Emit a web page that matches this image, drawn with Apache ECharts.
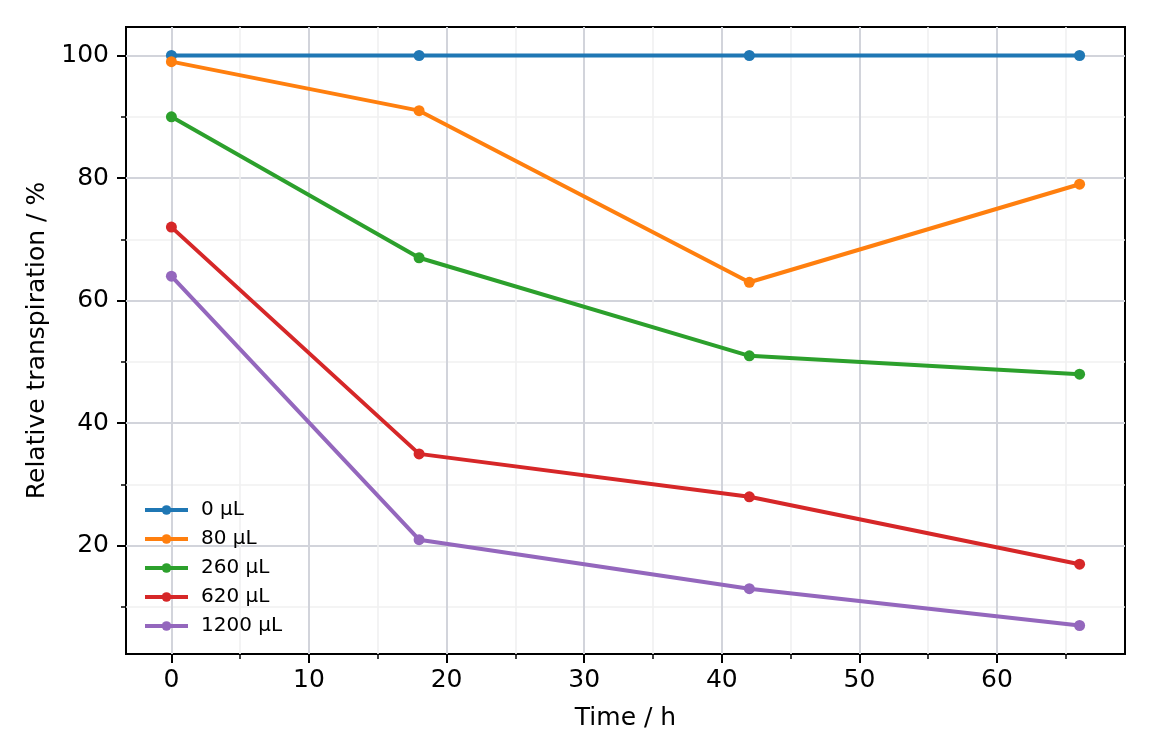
<!DOCTYPE html>
<html>
<head>
<meta charset="utf-8">
<script src="https://cdn.jsdelivr.net/npm/echarts@6/dist/echarts.min.js"></script>
<style>
html, body { margin: 0; padding: 0; background: #fff; }
#chart { width: 1152px; height: 756px; }
</style>
</head>
<body>
<div id="chart"></div>
<script>
// time points (h) and relative transpiration (%) per dose
var times = [0, 18, 42, 66];
var dose0 = [100, 100, 100, 100];
var dose80 = [99, 91, 63, 79];
var dose260 = [90, 67, 51, 48];
var dose620 = [72, 35, 28, 17];
var dose1200 = [64, 21, 13, 7];
var seriesNames = ['0 μL', '80 μL', '260 μL', '620 μL', '1200 μL'];
var xMajor = [0, 10, 20, 30, 40, 50, 60];
var xMinor = [5, 15, 25, 35, 45, 55, 65];
var yMajor = [20, 40, 60, 80, 100];
var yMinor = [10, 30, 50, 70, 90];

var colors = ['#1f77b4', '#ff7f0e', '#2ca02c', '#d62728', '#9467bd'];
var font = 'DejaVu Sans';

function pairs(ys) {
    return times.map(function (t, i) { return [t, ys[i]]; });
}

var allData = [dose0, dose80, dose260, dose620, dose1200];

var myChart = echarts.init(document.getElementById('chart'));
var option = {
    animation: false,
    color: colors,
    textStyle: { fontFamily: font },
    grid: {
        left: 126, right: 27, top: 27, bottom: 102,
        show: true,
        borderColor: '#000',
        borderWidth: 2,
        backgroundColor: 'transparent'
    },
    legend: {
        orient: 'vertical',
        left: 138,
        top: 495,
        itemWidth: 43,
        itemHeight: 12,
        itemGap: 9,
        lineStyle: { width: 4 },
        textStyle: { fontSize: 20, color: '#000', fontFamily: font, padding: [0, 0, 0, 8] },
        data: seriesNames
    },
    xAxis: [{
        type: 'value',
        min: -3.3,
        max: 69.3,
        name: 'Time / h',
        nameLocation: 'middle',
        nameGap: 52,
        nameTextStyle: { fontSize: 25, color: '#000', fontFamily: font },
        axisLine: { show: false, onZero: false },
        axisTick: { show: true, customValues: xMajor, length: 9, lineStyle: { color: '#000', width: 2 } },
        axisLabel: { customValues: xMajor, fontSize: 25, color: '#000', margin: 14, fontFamily: font },
        splitLine: { show: true, lineStyle: { color: '#d2d4db', width: 2 } }
    }, {
        type: 'value',
        min: -3.3,
        max: 69.3,
        position: 'bottom',
        axisLine: { show: false, onZero: false },
        axisTick: { show: true, customValues: xMinor, length: 5, lineStyle: { color: '#000', width: 1.5 } },
        axisLabel: { show: false },
        splitLine: { show: true, lineStyle: { color: '#f0f0f1', width: 1.6 } }
    }],
    yAxis: [{
        type: 'value',
        min: 2.35,
        max: 104.65,
        name: 'Relative transpiration / %',
        nameLocation: 'middle',
        nameGap: 76,
        nameTextStyle: { fontSize: 25, color: '#000', fontFamily: font },
        axisLine: { show: false, onZero: false },
        axisTick: { show: true, customValues: yMajor, length: 9, lineStyle: { color: '#000', width: 2 } },
        axisLabel: { customValues: yMajor, fontSize: 25, color: '#000', margin: 17, fontFamily: font },
        splitLine: { show: true, lineStyle: { color: '#d2d4db', width: 2 } }
    }, {
        type: 'value',
        min: 2.35,
        max: 104.65,
        position: 'left',
        axisLine: { show: false, onZero: false },
        axisTick: { show: true, customValues: yMinor, length: 5, lineStyle: { color: '#000', width: 1.5 } },
        axisLabel: { show: false },
        splitLine: { show: true, lineStyle: { color: '#f0f0f1', width: 1.6 } }
    }],
    series: seriesNames.map(function (name, i) {
        return {
            name: name,
            type: 'line',
            xAxisIndex: 0,
            yAxisIndex: 0,
            data: pairs(allData[i]),
            symbol: 'circle',
            symbolSize: 11,
            lineStyle: { width: 4, color: colors[i] },
            itemStyle: { color: colors[i] },
            z: 3 + i
        };
    })
};
myChart.setOption(option);
</script>
</body>
</html>
